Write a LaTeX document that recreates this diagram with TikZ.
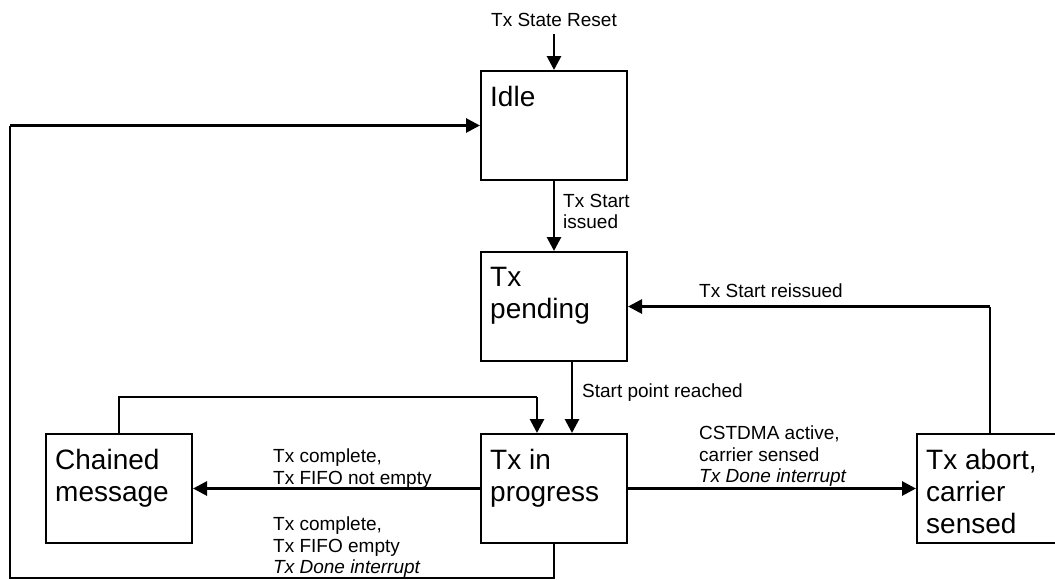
\documentclass[tikz,border=0pt]{standalone}
\usepackage{fontspec}
\setmainfont{Liberation Sans}
\usetikzlibrary{arrows.meta}

\begin{document}
\begin{tikzpicture}[x=1pt, y=-1pt,
    state/.style={draw, line width=2pt, minimum width=146pt, minimum height=109pt, inner sep=0pt},
    statetext/.style={anchor=north west, inner sep=0pt, align=left, font=\fontsize{28}{32}\selectfont},
    lbl/.style={anchor=north west, inner sep=0pt, align=left, font=\fontsize{19}{21.5}\selectfont},
    flow/.style={line width=2.8pt, -{Triangle[length=14pt, width=14pt]}},
    wire/.style={line width=1.8pt}]

    \useasboundingbox (0,0) rectangle (1055,579);

    % States
    \node[state] (idle) at (554, 125.5) {};
    \node[state] (pending) at (554, 306.5) {};
    \node[state] (progress) at (554, 488.5) {};
    \node[state] (chained) at (119, 488.5) {};
    \node[state] (abort) at (990, 488.5) {};

    \node[statetext] (idletxt) at ([shift={(10,16)}]idle.north west) {Idle};
    \node[statetext] (pendingtxt) at ([shift={(10,16)}]pending.north west) {Tx\\pending};
    \node[statetext] (progresstxt) at ([shift={(10,16)}]progress.north west) {Tx in\\progress};
    \node[statetext] (chainedtxt) at ([shift={(10,16)}]chained.north west) {Chained\\message};
    \node[statetext] (aborttxt) at ([shift={(10,16)}]abort.north west) {Tx abort,\\carrier\\sensed};


    % Labels
    \node[lbl, anchor=base, inner sep=8pt] (reset) at (554, 26) {Tx State Reset};
    \node[lbl] (issuedlbl) at (563, 194) {Tx Start\\issued};
    \node[lbl] (reachedlbl) at (582, 384) {Start point reached};
    \node[lbl] (reissuedlbl) at (699, 284) {Tx Start reissued};
    \node[lbl] (cstdmalbl) at (699, 426) {CSTDMA active,\\carrier sensed\\\textit{Tx Done interrupt}};
    \node[lbl] (chainlbl) at (273, 449) {Tx complete,\\Tx FIFO not empty};
    \node[lbl] (donelbl) at (273, 517) {Tx complete,\\Tx FIFO empty\\\textit{Tx Done interrupt}};


    \coordinate (floor) at (10, 578);
    \coordinate (wall) at (floor |- idle.west);

    \coordinate (chaintop) at (119, 397);
    \coordinate (chainin) at (537, 397);

    \coordinate (reissue) at (abort.north |- pending.east);


    \draw[flow] (reset.south) -- (idle.north);
    \draw[flow] (idle.south) -- (pending.north);
    \draw[flow] ([xshift=18pt]pending.south) -- ([xshift=18pt]progress.north);
    \draw[flow] (progress.west) -- (chained.east);
    \draw[flow] (progress.east) -- (abort.west);

    \draw[wire] (abort.north) -- (reissue);
    \draw[flow] (reissue) -- (pending.east);

    \draw[wire] (chained.north) -- (chaintop) -- (chainin);
    \draw[flow] (chainin) -- (chainin |- progress.north);

    \draw[wire] (progress.south) |- (floor) -- (wall);
    \draw[flow] (wall) -- (idle.west);

\end{tikzpicture}
\end{document}
